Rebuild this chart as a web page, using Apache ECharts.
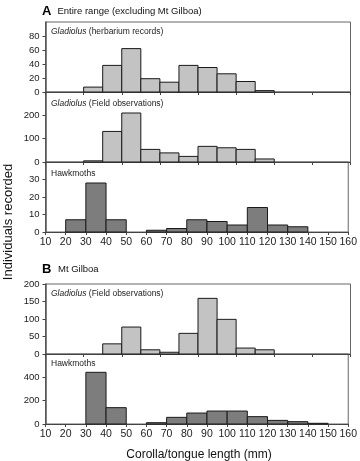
<!DOCTYPE html>
<html><head><meta charset="utf-8">
<script src="https://cdn.jsdelivr.net/npm/echarts@6/dist/echarts.min.js"></script>
<style>html,body{margin:0;padding:0;background:#fff}#c{width:360px;height:461px}</style>
</head><body><div id="c"></div>
<script>
// ---- Data ----
// Hawkmoth tongue-length bins (mm, bin start; each bin is 10 mm wide)
const hawkBinsA = [20, 30, 40, 50, 60, 70, 80, 90, 100, 110, 120, 130, 140];
const hawkA     = [7, 28, 7, 0, 1, 2, 7, 6, 4, 14, 4, 3, 0];
const hawkBinsB = [30, 40, 50, 60, 70, 80, 90, 100, 110, 120, 130, 140];
const hawkB     = [443, 140, 0, 11, 57, 94, 111, 111, 63, 31, 20, 6];
// Gladiolus panels: slot index on the original 16-slot category axis
const gladSlotsA = [2, 3, 4, 5, 6, 7, 8, 9, 10, 11];
const gladHerbA  = [7, 38, 62, 19, 14, 38, 35, 26, 15, 2];
const gladFieldA = [5, 131, 210, 54, 39, 24, 67, 61, 54, 13];
const gladSlotsB = [3, 4, 5, 6, 7, 8, 9, 10, 11];
const gladFieldB = [29, 77, 12, 5, 59, 159, 99, 17, 12];
const binWidth = 10;
const gladSlotCount = 16;
// y-axis ranges per panel
const yMax      = [100, 300, 40, 200, 600];
const yInterval = [20, 100, 10, 50, 200];
const showMax   = [false, false, false, true, false];
// text
const panelLabels = ['{i|Gladiolus}{n| (herbarium records)}', '{i|Gladiolus}{n| (Field observations)}', '{n|Hawkmoths}',
                     '{i|Gladiolus}{n| (Field observations)}', '{n|Hawkmoths}'];

// ---- Chart ----
const FONT = 'Liberation Sans, Arial, sans-serif';
const GLAD = '#c3c3c3', HAWK = '#7d7d7d';
const chart = echarts.init(document.getElementById('c'), null, {renderer: 'canvas'});

function hist(fill) {
  return function (params, api) {
    const lo = api.value(0), hi = api.value(1), v = api.value(2);
    if (!v) return null;
    const p0 = api.coord([lo, 0]), p1 = api.coord([hi, v]);
    return {type: 'rect',
      shape: {x: p0[0], y: p1[1], width: p1[0] - p0[0], height: p0[1] - p1[1]},
      style: {fill: fill, stroke: '#1a1a1a', lineWidth: 1}};
  };
}
const gladData = (slots, vals) => slots.map((s, i) => [s, s + 1, vals[i]]);
const hawkData = (bins, vals) => bins.map((b, i) => [b, b + binWidth, vals[i]]);

const tops = [22, 92, 162, 284, 354];
const grids = tops.map(t => ({left: 45.5, width: 305, top: t, height: 70,
  show: true, borderColor: '#666', borderWidth: 1, backgroundColor: 'transparent'}));

const isHawk = [false, false, true, false, true];
const xAxes = isHawk.map((h, i) => {
  const labels = (i === 2 || i === 4);
  return h ? {
    type: 'value', gridIndex: i, min: 10, max: 160, interval: 10,
    axisLine: {show: true, lineStyle: {color: '#444'}},
    axisTick: {show: true, length: 3, lineStyle: {color: '#444'}},
    axisLabel: {show: labels, fontSize: 10.5, color: '#222', fontFamily: FONT, margin: 5},
    splitLine: {show: false}
  } : {
    type: 'value', gridIndex: i, min: 0, max: gladSlotCount, interval: 2,
    axisLine: {show: true, lineStyle: {color: '#444'}},
    axisTick: {show: true, length: 3, lineStyle: {color: '#444'}},
    axisLabel: {show: false},
    splitLine: {show: false}
  };
});
const yAxes = yMax.map((m, i) => ({
  type: 'value', gridIndex: i, min: 0, max: m, interval: yInterval[i],
  axisLine: {show: true, lineStyle: {color: '#555', width: 1.5}},
  axisTick: {show: true, length: 3, lineStyle: {color: '#444'}},
  axisLabel: {fontSize: 9.5, color: '#222', fontFamily: FONT, margin: 6, showMaxLabel: showMax[i]},
  splitLine: {show: false}
}));

const seriesData = [
  [gladData(gladSlotsA, gladHerbA), GLAD],
  [gladData(gladSlotsA, gladFieldA), GLAD],
  [hawkData(hawkBinsA, hawkA), HAWK],
  [gladData(gladSlotsB, gladFieldB), GLAD],
  [hawkData(hawkBinsB, hawkB), HAWK]
];
const series = seriesData.map((d, i) => ({
  type: 'custom', xAxisIndex: i, yAxisIndex: i, data: d[0],
  encode: {x: [0, 1], y: 2}, renderItem: hist(d[1]), silent: true
}));

const labelY = [31.7, 103.3, 173.3, 293.3, 363.5];
const graphics = labelY.map((y, i) => ({
  type: 'text', x: 51, y: y,
  style: {text: panelLabels[i], fontSize: 8.5, fontFamily: FONT, fill: '#222', textVerticalAlign: 'middle',
    rich: {
      i: {fontStyle: 'italic', fontSize: 8.5, fontFamily: FONT, fill: '#222'},
      n: {fontSize: 8.5, fontFamily: FONT, fill: '#222'}
    }}
}));
graphics.push(
  {type: 'text', x: 42, y: 11.5, style: {text: 'A', font: 'bold 13px ' + FONT, fill: '#000', textVerticalAlign: 'middle'}},
  {type: 'text', x: 57.5, y: 11.8, style: {text: 'Entire range (excluding Mt Gilboa)', font: '9.5px ' + FONT, fill: '#111', textVerticalAlign: 'middle'}},
  {type: 'text', x: 42, y: 269, style: {text: 'B', font: 'bold 13px ' + FONT, fill: '#000', textVerticalAlign: 'middle'}},
  {type: 'text', x: 58, y: 269.5, style: {text: 'Mt Gilboa', font: '9.5px ' + FONT, fill: '#111', textVerticalAlign: 'middle'}},
  {type: 'text', x: 199, y: 455, style: {text: 'Corolla/tongue length (mm)', font: '12px ' + FONT, fill: '#111', textAlign: 'center', textVerticalAlign: 'middle'}},
  {type: 'text', x: 8, y: 222, rotation: Math.PI / 2,
    style: {text: 'Individuals recorded', font: '13px ' + FONT, fill: '#111', textAlign: 'center', textVerticalAlign: 'middle'}}
);

chart.setOption({
  animation: false,
  grid: grids, xAxis: xAxes, yAxis: yAxes, series: series, graphic: graphics
});
</script></body></html>
